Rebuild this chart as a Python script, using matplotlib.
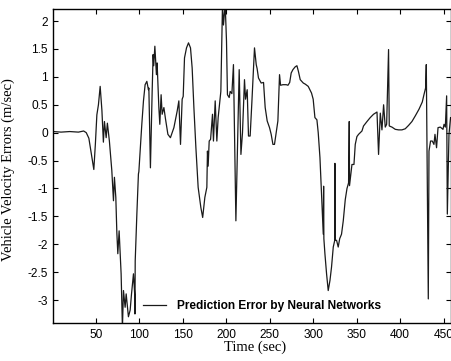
import matplotlib
matplotlib.use('Agg')
import matplotlib.pyplot as plt
import numpy as np

# Prediction error trace (time in sec, error in m/sec)
time_sec = [1, 10, 20, 30, 36, 39, 42, 45, 47.7, 49.5, 51.2, 53, 55, 57, 58.7,
            59.9, 61.9, 63.3, 65.6, 68.4, 70.3, 71.4, 73, 74.2, 75.3, 76.8, 79.1,
            80.6, 81.8, 83.7, 84.9, 87.5, 89.5, 91, 93.3, 94.8, 95.0, 95.3, 97.2,
            99, 99.5, 102.9, 104.8, 106.7, 108.7, 110.5, 111, 112.8, 114.8, 115.9,
            116.6, 117.9, 119.7, 120.5, 122.5, 123.6, 125.1, 126.3, 128.3, 130.1,
            132.9, 135.8, 139.8, 143.6, 145.5, 147.4, 149.3, 150.5, 152, 154.3,
            156.6, 158.9, 160.8, 162.8, 165.1, 167.7, 170.8, 172.9, 175.4, 177.7,
            178.4, 179.2, 180.4, 182, 184.2, 185.3, 187.3, 189.2, 190.7, 193.8,
            195.7, 196.8, 198.8, 200.3, 201.4, 203.4, 204.5, 206.5, 208.3, 211.1,
            212.9, 214.9, 216.9, 218.7, 221, 222.2, 224.1, 225.6, 227.5, 229.5,
            232.5, 234.5, 235.5, 237.1, 240.2, 242.9, 244.8, 247.1, 249.8, 251.7,
            253.7, 255.5, 257.5, 259.4, 261.3, 262.5, 265.2, 269, 271, 273, 274.7,
            276.7, 279.3, 281.3, 283, 285.1, 288.6, 290.9, 294.3, 298.1, 300, 302,
            304.3, 305.8, 307.8, 309.6, 311.6, 312.0, 312.3, 313.5, 315.4, 317.3,
            319.3, 321.1, 323.1, 324.8, 325, 325.3, 326.9, 328.8, 330.5, 332.6,
            334.6, 336.9, 338.9, 340.7, 341.5, 341.8, 342.6, 344.6, 346.9, 348.4,
            350.3, 352.2, 356.1, 357.9, 361.9, 365.6, 369.4, 373.4, 375.2, 377.2,
            379.1, 381, 382.9, 384.5, 386.7, 387.5, 390.6, 394.4, 398.2, 402.1,
            405.9, 409.7, 413.6, 417.4, 421.7, 425.5, 427.4, 429.3, 430.1, 432.4,
            433.2, 435, 437, 438.9, 440.1, 441.9, 443.6, 446.2, 449.3, 450.5, 452,
            453.5, 454.3, 456.2, 458]
error_ms = [0.02, 0.01, 0.02, 0.01, 0.03, 0.0, -0.1, -0.4, -0.66, -0.2, 0.32, 0.5,
            0.83, 0.4, -0.17, 0.2, -0.09, 0.17, -0.15, -0.68, -1.22, -0.8, -1.16,
            -1.8, -2.17, -1.76, -2.53, -3.5, -2.83, -3.13, -2.89, -3.3, -3.18, -2.9,
            -2.53, -2.92, -3.25, -2.3, -1.46, -0.74, -0.7, 0.15, 0.57, 0.86, 0.92,
            0.77, 0.8, -0.63, 0.74, 1.4, 1.2, 1.55, 1.04, 1.25, 0.45, 0.15, 0.68,
            0.33, 0.45, 0.25, -0.03, -0.09, 0.09, 0.39, 0.57, -0.21, 0.6, 0.65,
            1.34, 1.52, 1.61, 1.52, 1.16, 0.45, -0.27, -0.98, -1.34, -1.52, -1.16,
            -0.98, -0.33, -0.6, -0.15, -0.12, 0.33, -0.15, 0.57, -0.15, 0.27, 0.74,
            2.3, 1.93, 2.3, 1.64, 0.68, 0.63, 0.74, 0.7, 1.22, -1.58, -0.27, 1.13,
            -0.39, 0.0, 0.95, 0.6, 0.77, -0.06, -0.06, 0.55, 1.52, 1.22, 1.15, 0.98,
            0.89, 0.9, 0.45, 0.21, 0.09, -0.03, -0.21, -0.21, 0.0, 0.21, 1.04, 0.85,
            0.86, 0.86, 0.85, 0.9, 1.07, 1.13, 1.18, 1.2, 1.1, 0.95, 0.89, 0.87,
            0.83, 0.71, 0.6, 0.27, 0.23, 0.0, -0.45, -1.1, -1.82, -0.96, -1.9, -2.17,
            -2.53, -2.83, -2.65, -2.41, -2.05, -1.93, -0.55, -1.93, -1.93, -2.05,
            -1.9, -1.82, -1.58, -1.2, -1.0, -0.9, 0.2, -0.95, -0.84, -0.57, -0.57,
            -0.21, -0.07, -0.03, 0.03, 0.12, 0.2, 0.27, 0.33, 0.37, -0.39, 0.35,
            0.05, 0.5, 0.1, 0.15, 1.49, 0.12, 0.1, 0.06, 0.05, 0.05, 0.07, 0.13,
            0.2, 0.3, 0.42, 0.55, 0.68, 0.8, 1.22, -2.98, -0.33, -0.15, -0.15,
            -0.21, -0.03, -0.27, 0.09, 0.1, 0.06, 0.15, 0.1, 0.66, -1.46, -0.03,
            0.27]

x_ticks = [50, 100, 150, 200, 250, 300, 350, 400, 450]
y_ticks = [-3, -2.5, -2, -1.5, -1, -0.5, 0, 0.5, 1, 1.5, 2]
y_tick_labels = ['-3', '-2.5', '-2', '-1.5', '-1', '-0.5', '0', '0.5', '1', '1.5', '2']

plt.rcParams['axes.unicode_minus'] = False
plt.rcParams['font.family'] = 'Liberation Sans'

fig = plt.figure(figsize=(4.51, 3.61), dpi=100)
ax = fig.add_axes([0.118, 0.104, 0.881, 0.870])

ax.plot(time_sec, error_ms, color='#1a1a1a', linewidth=0.9,
        label='Prediction Error by Neural Networks')

ax.set_xlim(1, 458)
ax.set_ylim(-3.42, 2.21)
ax.set_xticks(x_ticks)
ax.set_yticks(y_ticks)
ax.set_yticklabels(y_tick_labels)
ax.tick_params(direction='in', length=3.5, width=0.8, labelsize=8.6,
               top=True, right=True, pad=4)
for s in ax.spines.values():
    s.set_linewidth(1.0)

# Times style labels
ax.set_xlabel('Time (sec)', family='Liberation Serif', fontsize=10.5)
ax.set_ylabel('Vehicle Velocity Errors (m/sec)', family='Liberation Serif', fontsize=10.5)
ax.xaxis.set_label_coords(0.507, -0.055)
ax.yaxis.set_label_coords(-0.095, 0.49)

leg = ax.legend(loc='center left', bbox_to_anchor=(0.226, 0.055), frameon=False,
                borderpad=0, borderaxespad=0, handlelength=1.93, handletextpad=0.9,
                prop={'weight': 'bold', 'size': 8.6})

fig.savefig('out.png', dpi=100)
